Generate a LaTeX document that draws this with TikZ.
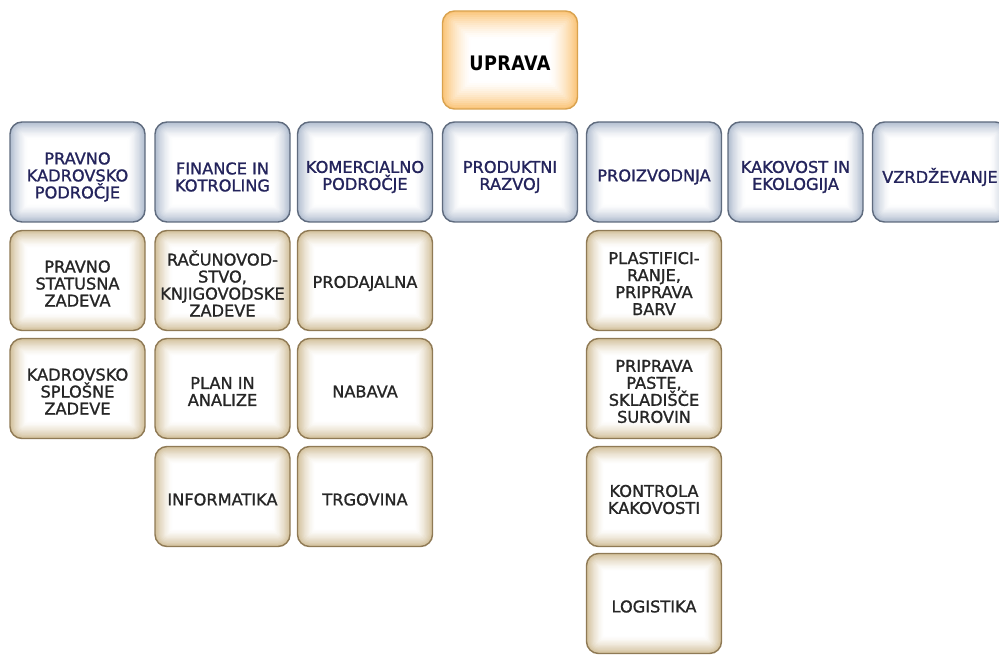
\documentclass[tikz,border=0pt]{standalone}
\usepackage{fontspec}
\setmainfont{DejaVu Sans}
\newfontface\boxfont{DejaVu Sans}[RawFeature={embolden=1.2}]
\newfontface\topfont{DejaVu Sans Bold}[FakeStretch=0.88, LetterSpace=2]
\definecolor{blueout}{HTML}{B2BED0}
\definecolor{blueline}{HTML}{5F6B7E}
\definecolor{bluetext}{HTML}{24245C}
\definecolor{tanout}{HTML}{D3C19C}
\definecolor{tanline}{HTML}{8F7A55}
\definecolor{tantext}{HTML}{262626}
\definecolor{orout}{HTML}{FBC67C}
\definecolor{orline}{HTML}{D9A24E}
\tikzset{
  glow/.style 2 args={fill=#1, path picture={
    \foreach \i in {1,...,14}{
      \pgfmathtruncatemacro\p{100*(1-\i/14)^1.5}
      \pgfmathsetmacro\r{max(12-\i*#2,1)}
      \fill[#1!\p!white, rounded corners=\r pt]
        ([shift={(\i*#2 pt,-\i*#2 pt)}]path picture bounding box.north west) rectangle
        ([shift={(-\i*#2 pt,\i*#2 pt)}]path picture bounding box.south east);
    }}},
  lab/.style={align=center, inner sep=0pt,
    font=\boxfont\fontsize{16.2}{17}\selectfont},
  box/.style={rounded corners=12pt, minimum width=135pt, minimum height=100pt,
    inner sep=0pt, line width=1.4pt},
  bluebox/.style={box, draw=blueline, glow={blueout}{1.25},
    label={[lab, text=bluetext, yshift=-5pt]center:#1}},
  tanbox/.style={box, draw=tanline, glow={tanout}{1.25},
    label={[lab, text=tantext, yshift=-3pt]center:#1}},
  topbox/.style={box, minimum height=98pt, draw=orline, glow={orout}{2.0},
    label={[lab, text=black, yshift=-3pt, font=\topfont\fontsize{20}{22}\selectfont]center:#1}},
}
\begin{document}
\begin{tikzpicture}[x=1pt,y=-1pt]
\useasboundingbox (0,0) rectangle (999,655);
\begin{scope}
\clip (0,0) rectangle (999,655);
% top
\node[topbox={UPRAVA}] (uprava) at (510,60) {};
% blue row
\node[bluebox={PRAVNO\\KADROVSKO\\PODROČJE}] (b1) at (77.5,172) {};
\node[bluebox={FINANCE IN\\KOTROLING}] (b2) at (222.5,172) {};
\node[bluebox={KOMERCIALNO\\PODROČJE}] (b3) at (365,172) {};
\node[bluebox={PRODUKTNI\\RAZVOJ}] (b4) at (510,172) {};
\node[bluebox={PROIZVODNJA}] (b5) at (654,172) {};
\node[bluebox={KAKOVOST IN\\EKOLOGIJA}] (b6) at (795.5,172) {};
\node[bluebox={VZRDŽEVANJE}] (b7) at (940,172) {};
% tan column 1
\node[tanbox={PRAVNO\\STATUSNA\\ZADEVA}] (t11) at (77.5,280.5) {};
\node[tanbox={KADROVSKO\\SPLOŠNE\\ZADEVE}] (t12) at (77.5,388.5) {};
% tan column 2
\node[tanbox={RAČUNOVOD-\\STVO,\\KNJIGOVODSKE\\ZADEVE}] (t21) at (222.5,280.5) {};
\node[tanbox={PLAN IN\\ANALIZE}] (t22) at (222.5,388.5) {};
\node[tanbox={INFORMATIKA}] (t23) at (222.5,496.5) {};
% tan column 3
\node[tanbox={PRODAJALNA}] (t31) at (365,280.5) {};
\node[tanbox={NABAVA}] (t32) at (365,388.5) {};
\node[tanbox={TRGOVINA}] (t33) at (365,496.5) {};
% tan column 5
\node[tanbox={PLASTIFICI-\\RANJE,\\PRIPRAVA\\BARV}] (t51) at (654,280.5) {};
\node[tanbox={PRIPRAVA\\PASTE,\\SKLADIŠČE\\SUROVIN}] (t52) at (654,388.5) {};
\node[tanbox={KONTROLA\\KAKOVOSTI}] (t53) at (654,496.5) {};
\node[tanbox={LOGISTIKA}] (t54) at (654,603.5) {};
\end{scope}
\end{tikzpicture}
\end{document}
